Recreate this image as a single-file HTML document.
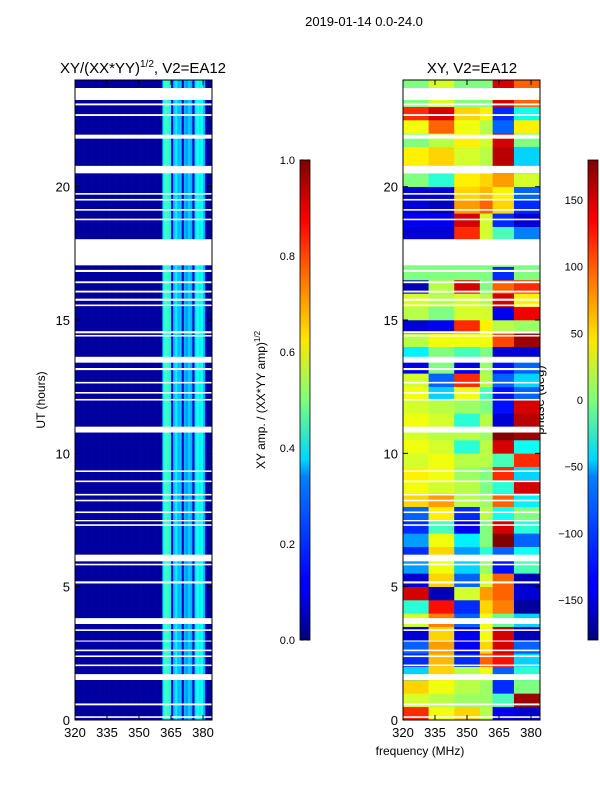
<!DOCTYPE html>
<html><head><meta charset="utf-8"><style>
body{margin:0;background:#fff;}
svg{display:block;font-family:"Liberation Sans","DejaVu Sans",sans-serif;}
</style></head><body>
<svg id="fig" width="600" height="800">
<text x="364" y="26" font-size="13" text-anchor="middle">2019-01-14 0.0-24.0</text>
<text x="143" y="73" font-size="15" text-anchor="middle">XY/(XX*YY)<tspan font-size="10" dy="-6">1/2</tspan><tspan dy="6">, V2=EA12</tspan></text>
<text x="472" y="73" font-size="15" text-anchor="middle">XY, V2=EA12</text>
<text x="420" y="755" font-size="12" text-anchor="middle">frequency (MHz)</text>
<text transform="translate(45,400) rotate(-90)" font-size="12" text-anchor="middle">UT (hours)</text>
<text transform="translate(265,400) rotate(-90)" font-size="12" text-anchor="middle">XY amp. / (XX*YY amp)<tspan font-size="8" dy="-5">1/2</tspan></text>
<text transform="translate(544,400) rotate(-90)" font-size="13" text-anchor="middle">phase (deg)</text>
<g id="left"></g>
<g id="right"></g>
<g id="axes"></g>
<defs>
<linearGradient id="jet" x1="0" y1="1" x2="0" y2="0">
<stop offset="0" stop-color="#00007f"/><stop offset="0.11" stop-color="#0000ff"/><stop offset="0.125" stop-color="#0000ff"/>
<stop offset="0.34" stop-color="#0080ff"/><stop offset="0.375" stop-color="#00d4ff"/><stop offset="0.5" stop-color="#7dff7a"/>
<stop offset="0.625" stop-color="#ffe600"/><stop offset="0.75" stop-color="#ff7700"/><stop offset="0.875" stop-color="#ff0000"/><stop offset="1" stop-color="#7f0000"/>
</linearGradient></defs>
<rect x="300" y="160" width="10" height="480" fill="url(#jet)" stroke="#000" stroke-width="0.8"/>
<rect x="588" y="160" width="10" height="480" fill="url(#jet)" stroke="#000" stroke-width="0.8"/>
</svg>
<script>
// ---- data ----
const freqTicks=[320,335,350,365,380];
const utTicks=[0,5,10,15,20];
const ampTicks=[0.0,0.2,0.4,0.6,0.8,1.0];
const phaseTicks=[-150,-100,-50,0,50,100,150];
// amplitude profile per 1-MHz bin starting at 320 MHz (same for all times)
const ampBinStart=320;
const ampProfile=[0.03,0.03,0.03,0.03,0.03,0.03,0.03,0.03,0.03,0.03,0.03,0.03,0.03,0.03,0.03,0.03,0.03,0.03,0.03,0.03,
0.03,0.03,0.03,0.03,0.03,0.03,0.03,0.03,0.03,0.03,0.03,0.03,0.03,0.03,0.03,0.03,0.03,0.03,0.03,0.03,
0.04,0.38,0.45,0.42,0.38,0.1,0.32,0.36,0.3,0.32,0.08,0.3,0.28,0.33,0.3,0.08,0.35,0.4,0.36,0.38,0.3,0.04,0.03,0.03,0.03];
// white (flagged) time ranges in hours
const gaps=[[23.25,23.7],[23.05,23.12],[22.65,22.72],[21.8,21.95],[20.5,20.78],[19.7,19.76],[19.48,19.54],[19.1,19.16],[18.74,18.8],[17.05,18.03],[16.8,16.88],[16.38,16.45],[16.03,16.1],[15.72,15.8],[15.52,15.58],[14.5,14.58],[14.38,14.44],[13.4,13.62],[13.12,13.2],[12.62,12.68],[12.24,12.3],[11.98,12.04],[10.78,11.0],[9.3,9.36],[8.92,8.98],[8.42,8.48],[8.2,8.26],[7.76,7.82],[7.45,7.5],[7.28,7.34],[5.95,6.2],[5.8,5.86],[5.12,5.2],[3.6,3.82],[3.34,3.4],[2.94,2.98],[2.58,2.64],[2.36,2.42],[2.02,2.08],[1.5,1.72],[0.55,0.62],[0.08,0.14]];
// phase (deg): rows are 0.5-h bins from 0 h upward; columns are frequency bins
const phaseFreqEdges=[320,332,344,356,362,372,384.2];
const phaseRows=[
[120,40,60,20,-140,-150],[30,20,10,10,-20,170],[60,40,20,10,-120,0],[-60,60,20,40,-100,-30],
[-120,70,-120,100,130,-60],[-100,80,-140,60,150,-100],[-150,60,-140,40,150,-160],[30,90,-100,40,-10,-60],
[-30,130,-120,60,90,-170],[150,-160,30,80,100,-150],[-150,60,-100,30,100,-160],[-80,40,-60,10,-130,-20],
[-120,60,-80,-30,-100,-40],[-80,40,-50,0,180,-100],[-120,-20,-140,0,150,-30],[-100,50,-120,20,-40,0],
[60,80,20,10,100,-50],[40,30,20,0,-30,150],[50,40,10,0,120,-60],[30,40,20,20,-20,120],
[40,30,-30,20,150,-40],[30,20,20,10,180,170],[40,30,-30,20,-150,160],[30,20,10,0,-130,150],
[40,-60,40,-20,-130,-100],[30,-100,120,20,-100,-60],[-140,0,-140,10,-130,-100],[-50,0,-20,0,-150,-150],
[20,40,40,40,110,170],[-150,-140,120,50,20,10],[20,0,30,30,-140,140],[30,20,30,20,150,50],
[-160,20,150,0,100,120],[0,0,0,0,-120,0],[0,0,0,0,0,0],[0,0,0,0,0,0],
[-150,-150,120,30,-20,-90],[-140,-140,150,30,-120,-150],[-150,-160,80,100,60,-120],[-150,-150,60,70,50,-100],
[0,-30,50,60,80,30],[50,60,30,20,160,-60],[50,60,30,20,160,-60],[0,20,50,30,150,0],
[40,100,40,20,-100,50],[120,150,60,50,-120,-40],[0,30,0,0,150,100],[0,30,0,0,150,100]];

// ---- geometry ----
const NS='http://www.w3.org/2000/svg';
const T0=80,T1=720,HMAX=24.0;
const yH=h=>T1-(h/HMAX)*(T1-T0);
const FMIN=320,FMAX=384.2;
const xL=f=>75+(f-FMIN)/(FMAX-FMIN)*137;
const xR=f=>403+(f-FMIN)/(FMAX-FMIN)*137;
function jet(v){v=Math.max(0,Math.min(1,v));
 const r=Math.max(0,Math.min(1,1.5-Math.abs(4*v-3)));
 const g=Math.max(0,Math.min(1,1.5-Math.abs(4*v-2)));
 const b=Math.max(0,Math.min(1,1.5-Math.abs(4*v-1)));
 return `rgb(${Math.round(r*255)},${Math.round(g*255)},${Math.round(b*255)})`;}
function mk(tag,attrs,parent){const e=document.createElementNS(NS,tag);for(const k in attrs)e.setAttribute(k,attrs[k]);parent.appendChild(e);return e;}

const L=document.getElementById('left'),R=document.getElementById('right'),A=document.getElementById('axes');
ampProfile.forEach((v,i)=>{
 const f0=ampBinStart+i,f1=Math.min(FMAX,f0+1); if(f0>=FMAX)return;
 const r=mk('rect',{x:xL(f0),y:T0,width:xL(f1)-xL(f0)+0.3,height:T1-T0,fill:jet(v)},L);
 
 
});
phaseRows.forEach((row,ri)=>{
 const h0=ri*0.5,h1=Math.min(HMAX,h0+0.5);
 row.forEach((p,ci)=>{
  const x0=xR(phaseFreqEdges[ci]),x1=xR(phaseFreqEdges[ci+1]);
  const r=mk('rect',{x:x0,y:yH(h1),width:x1-x0+0.3,height:yH(h0)-yH(h1)+0.3,fill:jet((p+180)/360)},R);
  
  
 });
});
gaps.forEach(g=>{
 [[75,137],[403,137]].forEach(([x,w])=>{
  const r=mk('rect',{x:x,y:yH(g[1]),width:w,height:yH(g[0])-yH(g[1]),fill:'#fff'},A);
  
  
 });
});
[[75,xL],[403,xR]].forEach(([x0,xf],pi)=>{
 const fr=mk('rect',{x:x0,y:T0,width:137,height:T1-T0,fill:'none',stroke:'#000','stroke-width':1},A);
 
 
 freqTicks.forEach(f=>{
  const x=xf(f);
  mk('line',{x1:x,y1:T1,x2:x,y2:T1-5,stroke:'#000'},A);
  mk('line',{x1:x,y1:T0,x2:x,y2:T0+5,stroke:'#000'},A);
  const t=mk('text',{x:x,y:T1+17,'font-size':13,'text-anchor':'middle'},A);t.textContent=f;
  
  
 });
 utTicks.forEach(h=>{
  const y=yH(h);
  mk('line',{x1:x0,y1:y,x2:x0+5,y2:y,stroke:'#000'},A);
  mk('line',{x1:x0+137,y1:y,x2:x0+132,y2:y,stroke:'#000'},A);
  const t=mk('text',{x:x0-5,y:y+5,'font-size':13,'text-anchor':'end'},A);t.textContent=h;
  
  
 });
});
ampTicks.forEach(v=>{
 const y=640-v*480;
 mk('line',{x1:300,y1:y,x2:304,y2:y,stroke:'#000'},A);mk('line',{x1:310,y1:y,x2:306,y2:y,stroke:'#000'},A);
 const t=mk('text',{x:295,y:y+4,'font-size':11,'text-anchor':'end'},A);t.textContent=v.toFixed(1);
 
 
});
phaseTicks.forEach(v=>{
 const y=400-v*480/360;
 mk('line',{x1:588,y1:y,x2:592,y2:y,stroke:'#000'},A);mk('line',{x1:598,y1:y,x2:594,y2:y,stroke:'#000'},A);
 const t=mk('text',{x:583,y:y+4,'font-size':11,'text-anchor':'end'},A);t.textContent=(v<0?'\u2212'+(-v):v);
 
 
});
</script>
</body></html>
